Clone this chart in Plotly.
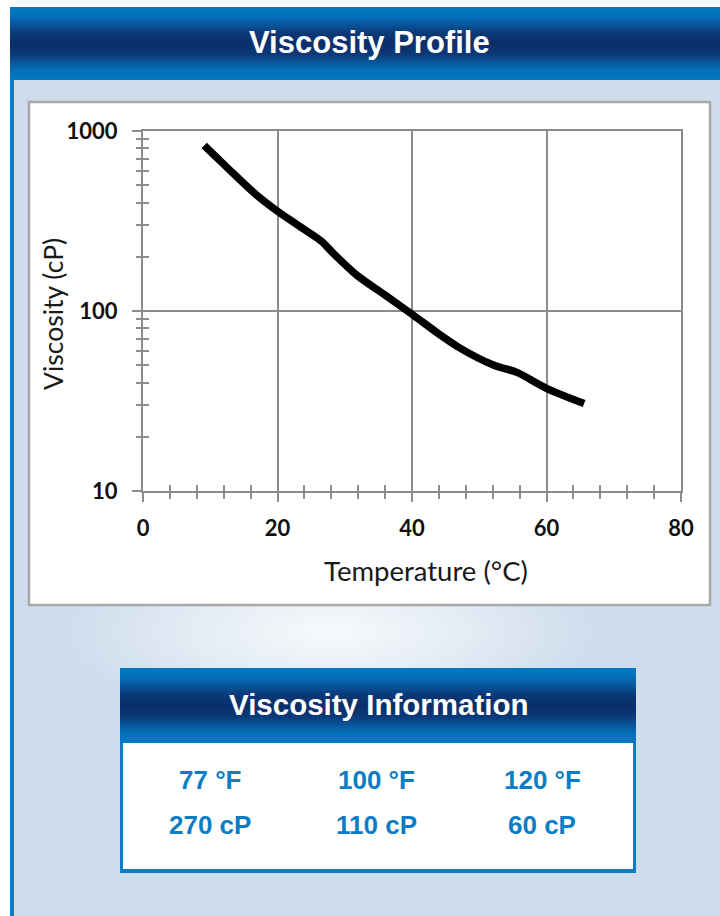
import base64
import plotly.graph_objects as go

# ---------------- data ----------------
temperature_c = [9.1, 10.5, 13.4, 16.9, 20.0, 22.9, 26.6, 28.3, 31.8, 35.8,
                 40.0, 44.2, 47.2, 52.1, 55.6, 60.0, 65.6]
viscosity_cp = [830, 740, 582, 440, 358, 302, 243, 209, 158, 124,
                96, 73.6, 62, 50.1, 45.6, 37.2, 30.6]

x_ticks = [0, 20, 40, 60, 80]
y_ticks = [10, 100, 1000]

info_temps = ["77 °F", "100 °F", "120 °F"]
info_visc = ["270 cP", "110 cP", "60 cP"]

# ---------------- page geometry (pixels) ----------------
W, H = 720, 916
PX0, PX1, PY0, PY1 = 143, 681, 131, 491   # plot area


def px(x):
    return (x - PX0) / (PX1 - PX0)


def py(y):
    return (PY1 - y) / (PY1 - PY0)


GRAD = ('<stop offset="0" stop-color="#0379C3"/>'
        '<stop offset="0.13" stop-color="#0470BA"/>'
        '<stop offset="0.36" stop-color="#0B3877"/>'
        '<stop offset="0.5" stop-color="#0B2E6A"/>'
        '<stop offset="0.64" stop-color="#0B3877"/>'
        '<stop offset="0.87" stop-color="#0570BA"/>'
        '<stop offset="1" stop-color="#0379C3"/>')

svg = f'''<svg xmlns="http://www.w3.org/2000/svg" width="{W}" height="{H}" viewBox="0 0 {W} {H}" preserveAspectRatio="none">
<defs>
<linearGradient id="hg" x1="0" y1="0" x2="0" y2="1">{GRAD}</linearGradient>
<radialGradient id="glow" cx="0.5" cy="0.5" r="0.5">
<stop offset="0" stop-color="#FFFFFF" stop-opacity="0.85"/>
<stop offset="0.5" stop-color="#FFFFFF" stop-opacity="0.45"/>
<stop offset="1" stop-color="#FFFFFF" stop-opacity="0"/>
</radialGradient>
</defs>
<rect x="0" y="0" width="{W}" height="{H}" fill="#FFFFFF"/>
<rect x="10" y="79" width="710" height="{H-79}" fill="#CEDCEC"/>
<ellipse cx="330" cy="632" rx="270" ry="95" fill="url(#glow)"/>
<rect x="10" y="79" width="4" height="{H-79}" fill="#0A7BC5"/>
<rect x="10" y="7" width="710" height="73" fill="url(#hg)"/>
<rect x="29" y="102" width="681" height="503" fill="#FFFFFF" stroke="#A8A8A8" stroke-width="2.5"/>
<rect x="120" y="668" width="516" height="205" fill="#0B7DC5"/>
<rect x="120" y="668" width="516" height="75" fill="url(#hg)"/>
<rect x="123" y="743" width="510" height="126" fill="#FFFFFF"/>
</svg>'''
svg_uri = "data:image/svg+xml;base64," + base64.b64encode(svg.encode()).decode()

GRID = "#8C8C8C"
TICKFONT = dict(family="Lato", size=22, color="#111111", weight="bold")

fig = go.Figure()
fig.add_trace(go.Scatter(
    x=temperature_c, y=viscosity_cp, mode="lines",
    line=dict(color="#000000", width=7.5, shape="spline", smoothing=0.8),
    showlegend=False, hoverinfo="skip"))
# invisible trace to activate overlay axes (inside half of crossing minor ticks)
fig.add_trace(go.Scatter(x=[None], y=[None], xaxis="x2", yaxis="y2",
                         showlegend=False, hoverinfo="skip"))

fig.update_layout(
    width=W, height=H,
    margin=dict(l=PX0, r=W - PX1, t=PY0, b=H - PY1, pad=0),
    paper_bgcolor="#FFFFFF", plot_bgcolor="rgba(0,0,0,0)",
    showlegend=False,
    xaxis=dict(range=[0, 80], tickvals=x_ticks, ticks="outside", ticklen=9,
               tickwidth=2, tickcolor=GRID, showgrid=True, gridcolor=GRID,
               gridwidth=2, showline=True, linecolor=GRID, linewidth=2,
               mirror=True, zeroline=False, tickfont=TICKFONT,
               ticklabelstandoff=8,
               minor=dict(dtick=4, ticks="outside", ticklen=6, tickwidth=1.5,
                          tickcolor=GRID, showgrid=False)),
    yaxis=dict(type="log", range=[1, 3], dtick=1, ticks="outside", ticklen=9,
               tickwidth=2, tickcolor=GRID, showgrid=True, gridcolor=GRID,
               gridwidth=2, showline=True, linecolor=GRID, linewidth=2,
               mirror=True, zeroline=False, tickfont=TICKFONT,
               ticklabelstandoff=10,
               minor=dict(dtick="D1", ticks="outside", ticklen=5, tickwidth=1.5,
                          tickcolor=GRID, showgrid=False)),
    xaxis2=dict(range=[0, 80], overlaying="x", anchor="y2", showgrid=False,
                showline=False, showticklabels=False, ticks="", zeroline=False,
                dtick=20,
                minor=dict(dtick=4, ticks="inside", ticklen=6, tickwidth=1.5,
                           tickcolor=GRID, showgrid=False)),
    yaxis2=dict(type="log", range=[1, 3], overlaying="y", anchor="x2",
                side="left", showgrid=False, showline=False,
                showticklabels=False, ticks="", zeroline=False, dtick=1,
                minor=dict(dtick="D1", ticks="inside", ticklen=6, tickwidth=1.5,
                           tickcolor=GRID, showgrid=False)),
    images=[dict(source=svg_uri, xref="paper", yref="paper",
                 x=px(0), y=py(0), sizex=W / (PX1 - PX0), sizey=H / (PY1 - PY0),
                 xanchor="left", yanchor="top", sizing="stretch", layer="below")],
)

ann = []
ann.append(dict(text="<b>Viscosity Profile</b>", x=px(369), y=py(42),
                font=dict(family="Liberation Sans", size=31, color="#FFFFFF")))
ann.append(dict(text="<b>Viscosity Information</b>", x=px(378), y=py(704),
                font=dict(family="Liberation Sans", size=29.5, color="#FFFFFF")))
cols = [210, 376, 542]
for i in range(3):
    ann.append(dict(text=f"<b>{info_temps[i]}</b>", x=px(cols[i]), y=py(780),
                    font=dict(family="Liberation Sans", size=26, color="#0B7DC5")))
    ann.append(dict(text=f"<b>{info_visc[i]}</b>", x=px(cols[i]), y=py(824.5),
                    font=dict(family="Liberation Sans", size=26, color="#0B7DC5")))
ann.append(dict(text="Temperature (°C)", x=px(426), y=py(570),
                font=dict(family="Lato", size=27.5, color="#1A1A1A")))
ann.append(dict(text="Viscosity (cP)", x=px(53), y=py(314), textangle=-90,
                font=dict(family="Lato", size=26.5, color="#1A1A1A")))
for a in ann:
    a.update(xref="paper", yref="paper", showarrow=False,
             xanchor="center", yanchor="middle")
fig.update_layout(annotations=ann)

fig.write_html("out.html",
               config={"displayModeBar": False},
               post_script="document.body.style.margin='0';"
                           "document.body.style.overflow='hidden';")
